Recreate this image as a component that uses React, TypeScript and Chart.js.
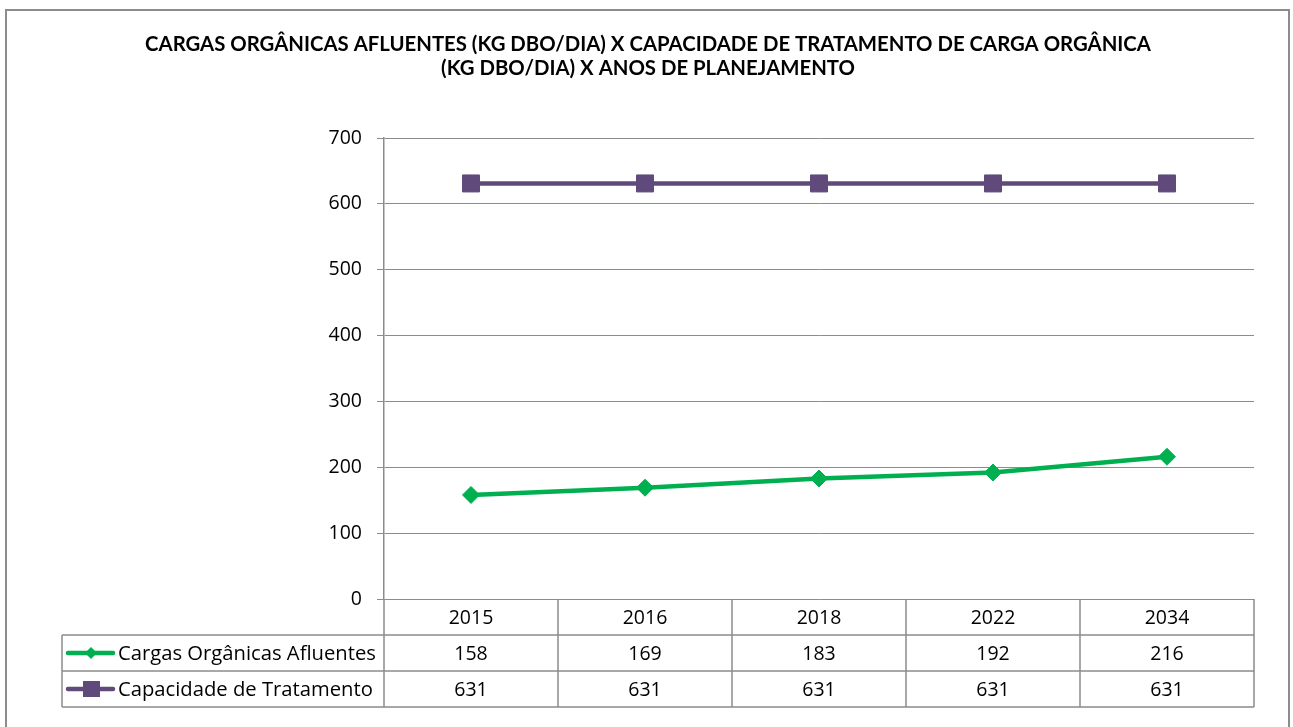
import React, { useEffect, useRef } from 'react';
import { Chart, registerables } from 'chart.js';

Chart.register(...registerables);

const years = ['2015', '2016', '2018', '2022', '2034'];
const cargas = [158, 169, 183, 192, 216];
const capacidade = [631, 631, 631, 631, 631];
const seriesNames = ['Cargas Orgânicas Afluentes', 'Capacidade de Tratamento'];
const titleLines = [
  'CARGAS ORGÂNICAS AFLUENTES (KG DBO/DIA) X CAPACIDADE DE TRATAMENTO DE CARGA ORGÂNICA',
  '(KG DBO/DIA) X ANOS DE PLANEJAMENTO',
];
const yMin = 0;
const yMax = 700;
const yStep = 100;

const W = 1293;
const H = 727;
const TITLE_FONT = 'Lato, "Open Sans", sans-serif';
const FONT = '"Open Sans", Lato, sans-serif';
const GREEN = '#00B050';
const PURPLE = '#604A7B';
const GRID = '#8c8c8c';

const ROW_H = 36;
const LEGEND_LEFT = 62;

const decor = {
  id: 'decor',
  beforeDraw(chart: any) {
    const ctx = chart.ctx;
    ctx.save();
    ctx.fillStyle = '#fff';
    ctx.fillRect(0, 0, chart.width, chart.height);
    ctx.strokeStyle = GRID;
    ctx.lineWidth = 2;
    ctx.beginPath();
    ctx.moveTo(6, chart.height + 5);
    ctx.lineTo(6, 10);
    ctx.lineTo(1289, 10);
    ctx.lineTo(1289, chart.height + 5);
    ctx.stroke();

    // title
    ctx.fillStyle = '#000';
    ctx.textAlign = 'center';
    ctx.textBaseline = 'alphabetic';
    let size = 19;
    ctx.font = `bold ${size}px ${TITLE_FONT}`;
    const w0 = ctx.measureText(titleLines[0]).width;
    size = size * 1006 / w0;
    ctx.font = `bold ${size}px ${TITLE_FONT}`;
    ctx.fillText(titleLines[0], 648, 51);
    ctx.fillText(titleLines[1], 648, 75);
    ctx.restore();
  },
  afterDraw(chart: any) {
    const ctx = chart.ctx;
    const ca = chart.chartArea;
    const xs = chart.scales.x;
    const n = years.length;
    const colW = (ca.right - ca.left) / n;
    const top = ca.bottom;
    const r1 = top + ROW_H;
    const r2 = r1 + ROW_H;
    const r3 = r2 + ROW_H;
    ctx.save();
    ctx.strokeStyle = GRID;
    ctx.lineWidth = 1.5;
    ctx.beginPath();
    for (let i = 0; i <= n; i++) {
      const x = ca.left + i * colW;
      ctx.moveTo(x, top);
      ctx.lineTo(x, r3);
    }
    ctx.moveTo(LEGEND_LEFT, r1);
    ctx.lineTo(ca.right, r1);
    ctx.moveTo(LEGEND_LEFT, r2);
    ctx.lineTo(ca.right, r2);
    ctx.moveTo(LEGEND_LEFT, r3);
    ctx.lineTo(ca.right, r3);
    ctx.moveTo(LEGEND_LEFT, r1);
    ctx.lineTo(LEGEND_LEFT, r3);
    ctx.stroke();

    ctx.fillStyle = '#000';
    ctx.font = `19.5px ${FONT}`;
    ctx.textAlign = 'center';
    ctx.textBaseline = 'middle';
    const rows = [cargas, capacidade];
    for (let i = 0; i < n; i++) {
      const cx = xs.getPixelForValue(i);
      ctx.fillText(years[i], cx, (top + r1) / 2 + 1);
      ctx.fillText(String(rows[0][i]), cx, (r1 + r2) / 2 + 1);
      ctx.fillText(String(rows[1][i]), cx, (r2 + r3) / 2 + 1);
    }

    // legend keys
    const keys = [
      { y: (r1 + r2) / 2, color: GREEN, shape: 'diamond' },
      { y: (r2 + r3) / 2, color: PURPLE, shape: 'square' },
    ];
    // fit legend label size so the longest label spans the cell like the reference
    let ls = 19.5;
    ctx.font = `${ls}px ${FONT}`;
    const lw = ctx.measureText(seriesNames[0]).width;
    ls = Math.min(21, ls * 258 / lw);
    keys.forEach((k, idx) => {
      ctx.strokeStyle = k.color;
      ctx.fillStyle = k.color;
      ctx.lineWidth = 4.5;
      ctx.lineCap = 'round';
      ctx.beginPath();
      ctx.moveTo(68, k.y);
      ctx.lineTo(113, k.y);
      ctx.stroke();
      ctx.beginPath();
      if (k.shape === 'diamond') {
        const r = 6;
        ctx.moveTo(91 - r, k.y);
        ctx.lineTo(91, k.y - r);
        ctx.lineTo(91 + r, k.y);
        ctx.lineTo(91, k.y + r);
        ctx.closePath();
      } else {
        ctx.rect(83, k.y - 8, 17, 16);
      }
      ctx.fill();
      ctx.fillStyle = '#000';
      ctx.textAlign = 'left';
      ctx.font = `${ls}px ${FONT}`;
      ctx.fillText(seriesNames[idx], 118, k.y + 1);
    });
    ctx.restore();
  },
};

export default function App() {
  const ref = useRef<HTMLCanvasElement | null>(null);
  useEffect(() => {
    if (!ref.current) return;
    const chart = new Chart(ref.current, {
      type: 'line',
      data: {
        labels: years,
        datasets: [
          {
            label: seriesNames[0],
            data: cargas,
            borderColor: GREEN,
            backgroundColor: GREEN,
            borderWidth: 4.5,
            pointStyle: 'rectRot',
            pointRadius: 8.5,
            pointBorderWidth: 1,
            tension: 0,
          },
          {
            label: seriesNames[1],
            data: capacidade,
            borderColor: PURPLE,
            backgroundColor: PURPLE,
            borderWidth: 4.5,
            pointStyle: 'rect',
            pointRadius: 12,
            pointBorderWidth: 1,
            tension: 0,
          },
        ],
      },
      options: {
        responsive: false,
        animation: false,
        devicePixelRatio: 1,
        layout: { padding: { left: 0, right: W - 1254, top: 138, bottom: H - 599 } },
        plugins: {
          legend: { display: false },
          title: { display: false },
          tooltip: { enabled: false },
        },
        scales: {
          x: { type: 'category', offset: true, display: false },
          y: {
            min: yMin,
            max: yMax,
            afterFit: (s: any) => {
              s.width = 384;
            },
            ticks: {
              stepSize: yStep,
              color: '#000',
              padding: 15,
              font: { family: FONT, size: 19.5 },
            },
            grid: { color: GRID, lineWidth: 1, tickLength: 7, drawTicks: true },
            border: { display: true, color: GRID, width: 1.5 },
          },
        },
      },
      plugins: [decor],
    });
    return () => chart.destroy();
  }, []);
  return (
    <div style={{ position: 'fixed', left: 0, top: 0, width: W, height: H, background: '#fff' }}>
      <canvas ref={ref} width={W} height={H} style={{ display: 'block', width: W, height: H }} />
    </div>
  );
}
